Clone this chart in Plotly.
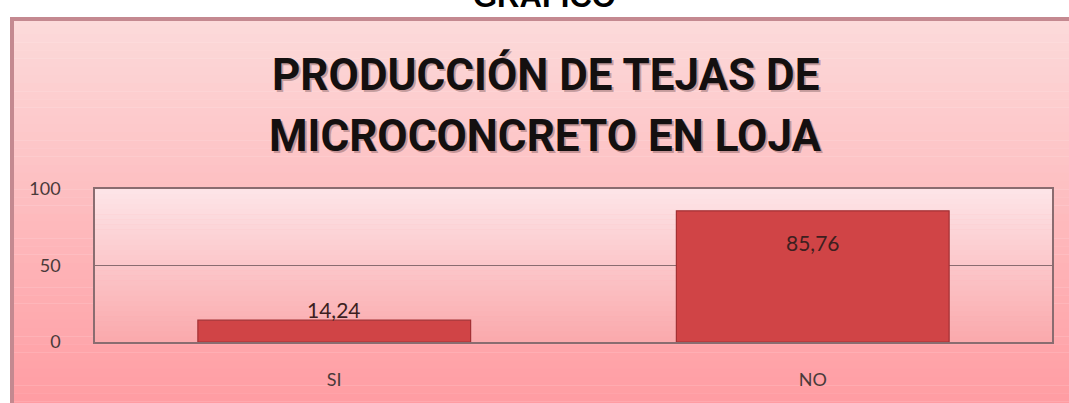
import plotly.graph_objects as go

# Survey answers and their percentages
categories = ["SI", "NO"]
percentages = [14.24, 85.76]
value_labels = ["14,24", "85,76"]
y_ticks = [0, 50, 100]

TITLE_LINES = ["PRODUCCIÓN DE TEJAS DE", "MICROCONCRETO EN LOJA"]
CAPTION = "GRAFICO"

W, H = 1069, 403
ML, MR, MT, MB = 95, 17, 189, 61
PW, PH = W - ML - MR, H - MT - MB


def px_x(p):
    return (p - ML) / PW


def px_y(p):
    return (H - MB - p) / PH


def mix(c1, c2, t):
    return "rgb({},{},{})".format(*[round(a + (b - a) * t) for a, b in zip(c1, c2)])


shapes = []

# Chart frame: vertical pink gradient
frame_top, frame_bot = 18, 410
n = 48
for i in range(n):
    y0 = frame_top + (frame_bot - frame_top) * i / n
    y1 = frame_top + (frame_bot - frame_top) * (i + 1) / n
    shapes.append(dict(type="rect", xref="paper", yref="paper",
                       x0=px_x(10), x1=px_x(1080), y0=px_y(y1), y1=px_y(y0) + 0.002,
                       fillcolor=mix((252, 218, 218), (255, 156, 162), i / (n - 1)),
                       line=dict(width=0), layer="below"))

# Plot area: lighter gradient
m = 30
for i in range(m):
    shapes.append(dict(type="rect", xref="paper", yref="paper",
                       x0=0, x1=1, y0=1 - (i + 1) / m, y1=1 - i / m + 0.002,
                       fillcolor=mix((253, 228, 231), (250, 170, 173), i / (m - 1)),
                       line=dict(width=0), layer="below"))

# Frame border
shapes.append(dict(type="rect", xref="paper", yref="paper",
                   x0=px_x(12), x1=px_x(1085), y0=px_y(415), y1=px_y(19),
                   fillcolor="rgba(0,0,0,0)", line=dict(color="#c48990", width=4),
                   layer="below"))

fig = go.Figure()
fig.add_trace(go.Bar(
    x=categories, y=percentages,
    marker=dict(color="#d04446", line=dict(color="#a33034", width=1.2)),
    hoverinfo="skip",
))

label_font = dict(family="Lato, Calibri, sans-serif", size=21, color="#3d1f1f")
annotations = []
for cat, val, lab in zip(categories, percentages, value_labels):
    inside = val > 50
    annotations.append(dict(
        x=cat, y=val, xref="x", yref="y", text=lab, showarrow=False,
        yanchor="top" if inside else "bottom", yshift=-17 if inside else -4,
        font=label_font,
    ))

title_font = "Roboto, sans-serif"
title_size = 44
for line, cy in zip(TITLE_LINES, [75, 136]):
    # soft shadow, then the text itself
    annotations.append(dict(
        x=px_x(547), y=px_y(cy + 2), xref="paper", yref="paper", text=line,
        showarrow=False, xanchor="center", yanchor="middle",
        font=dict(family=title_font, size=title_size, color="rgba(60,25,25,0.28)",
                  weight="bold"),
    ))
    annotations.append(dict(
        x=px_x(545), y=px_y(cy), xref="paper", yref="paper", text=line,
        showarrow=False, xanchor="center", yanchor="middle",
        font=dict(family=title_font, size=title_size, color="#141010", weight="bold"),
    ))

annotations.append(dict(
    x=px_x(544), y=px_y(-4), xref="paper", yref="paper", text=CAPTION,
    showarrow=False, xanchor="center", yanchor="middle",
    font=dict(family="Liberation Sans, Arial, sans-serif", size=31, color="#000000",
              weight="bold"),
))

axis_col = "#8a6c70"
fig.update_layout(
    width=W, height=H,
    margin=dict(l=ML, r=MR, t=MT, b=MB),
    paper_bgcolor="white",
    plot_bgcolor="rgba(0,0,0,0)",
    bargap=0.43,
    showlegend=False,
    shapes=shapes,
    annotations=annotations,
    font=dict(family="Lato, Calibri, sans-serif", size=18, color="#4a3a3a"),
    xaxis=dict(showline=True, mirror=True, linecolor=axis_col, linewidth=1.5,
               showgrid=False, ticks="", ticklabelstandoff=21, fixedrange=True),
    yaxis=dict(range=[0, 100], tickvals=y_ticks, showline=True, mirror=True,
               linecolor=axis_col, linewidth=1.5, showgrid=True, gridcolor=axis_col,
               gridwidth=1.2, zeroline=False, ticks="", ticklabelstandoff=29,
               fixedrange=True),
)

fig.write_html("out.html")
